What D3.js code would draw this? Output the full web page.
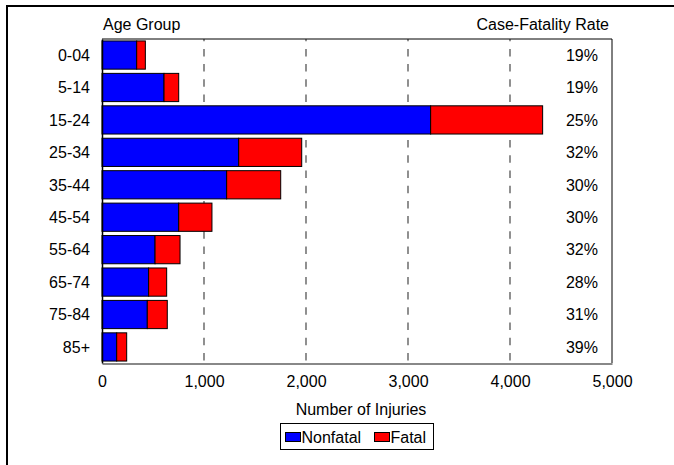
<!DOCTYPE html>
<html><head><meta charset="utf-8">
<script src="https://cdn.jsdelivr.net/npm/d3@7"></script>
<style>body{margin:0;background:#fff}svg{display:block}text{font-family:"Liberation Sans",Arial,sans-serif;fill:#000}</style>
</head><body><svg id="c" width="674" height="465"></svg>
<script>
const categories = ["0-04","5-14","15-24","25-34","35-44","45-54","55-64","65-74","75-84","85+"];
const nonfatal = [340, 608, 3222, 1340, 1222, 752, 520, 457, 444, 144];
const fatal = [85, 144, 1098, 618, 530, 326, 245, 177, 196, 98];
const cfrLabels = ["19%","19%","25%","32%","30%","30%","32%","28%","31%","39%"];
const xTicks = [0,1000,2000,3000,4000,5000];
const seriesNames = ["Nonfatal","Fatal"];
const colors = ["#0000ff","#ff0000"];

const FS = 16;
const svg = d3.select("#c");
const L=102,R=612,T=39,B=363;
const x = d3.scaleLinear().domain([0,5000]).range([L,R]);
const y = d3.scaleBand().domain(categories).range([T,B]).paddingInner(0.13).paddingOuter(0.06);

// outer frame
svg.append("path").attr("d","M7,470 V6 H680").attr("fill","none").attr("stroke","#000").attr("stroke-width",2);

// gridlines
svg.append("g").selectAll("line").data(xTicks.filter(d=>d>0&&d<5000)).join("line")
  .attr("x1",d=>x(d)).attr("x2",d=>x(d)).attr("y1",T).attr("y2",B)
  .attr("stroke","#555").attr("stroke-width",1.3).attr("stroke-dasharray","7.5,7.7").attr("stroke-dashoffset",5.3);

// plot border right/top
svg.append("path").attr("d",`M${L},${T}H${R}V${B}`).attr("fill","none").attr("stroke","#000").attr("stroke-width",1);

const rows = categories.map((c,i)=>({c,nf:nonfatal[i],f:fatal[i]}));
const g = svg.append("g");
g.selectAll("rect.nf").data(rows).join("rect").attr("class","nf")
  .attr("x",x(0)).attr("y",d=>y(d.c)).attr("width",d=>x(d.nf)-x(0)).attr("height",y.bandwidth())
  .attr("fill",colors[0]).attr("stroke","#000").attr("stroke-width",1);
g.selectAll("rect.f").data(rows).join("rect").attr("class","f")
  .attr("x",d=>x(d.nf)).attr("y",d=>y(d.c)).attr("width",d=>x(d.nf+d.f)-x(d.nf)).attr("height",y.bandwidth())
  .attr("fill",colors[1]).attr("stroke","#000").attr("stroke-width",1);

// x axis
const xa = svg.append("g").attr("transform",`translate(0,${B})`)
  .call(d3.axisBottom(x).tickValues(xTicks).tickSize(0).tickPadding(12).tickFormat(d3.format(",")));
xa.select(".domain").attr("stroke","#888").attr("stroke-width",2).attr("transform","translate(0,0.5)");
xa.selectAll("text").attr("font-size",FS).attr("dy",null).attr("y",24)
  .style("font-family","Liberation Sans, Arial, sans-serif");

// y axis
const ya = svg.append("g").attr("transform",`translate(${L},0)`)
  .call(d3.axisLeft(y).tickSize(0).tickPadding(12));
ya.select(".domain").attr("stroke","#000").attr("stroke-width",1.5);
ya.selectAll("text").attr("font-size",FS).attr("dy","0.36em").style("font-family","Liberation Sans, Arial, sans-serif");

// CFR labels
svg.append("g").selectAll("text").data(categories).join("text")
  .attr("x",598).attr("y",d=>y(d)+y.bandwidth()/2).attr("dy","0.36em")
  .attr("text-anchor","end").attr("font-size",FS).text((d,i)=>cfrLabels[i]);

svg.append("text").attr("x",103).attr("y",29.5).attr("font-size",FS).text("Age Group");
svg.append("text").attr("x",609).attr("y",29.5).attr("text-anchor","end").attr("font-size",FS).text("Case-Fatality Rate");
svg.append("text").attr("x",361).attr("y",415).attr("text-anchor","middle").attr("font-size",FS).text("Number of Injuries");

// legend
const lg = svg.append("g");
lg.append("rect").attr("x",280.5).attr("y",423.5).attr("width",153).attr("height",26).attr("fill","#fff").attr("stroke","#000");
const items = [{n:seriesNames[0],c:colors[0],x:285},{n:seriesNames[1],c:colors[1],x:374}];
items.forEach(it=>{
  lg.append("rect").attr("x",it.x+0.5).attr("y",432.5).attr("width",15).attr("height",9).attr("fill",it.c).attr("stroke","#000");
  lg.append("text").attr("x",it.x+16.5).attr("y",443).attr("font-size",FS).text(it.n);
});
</script></body></html>
